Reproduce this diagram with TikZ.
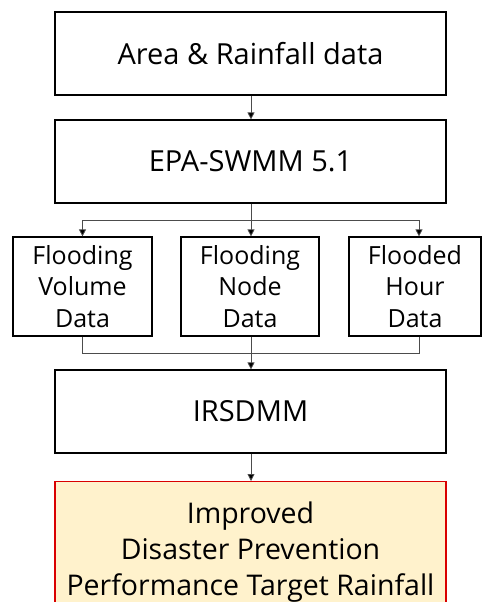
\documentclass[tikz,border=0pt]{standalone}
\usepackage{fontspec}
\setmainfont{Open Sans}
\usetikzlibrary{arrows.meta}
\begin{document}
\begin{tikzpicture}[x=1pt,y=-1pt,
  box/.style={draw=black,line width=1.2pt,minimum height=83pt,minimum width=391pt,inner sep=0pt,align=center},
  small/.style={draw=black,line width=1.2pt,inner sep=0pt,align=center,font=\fontsize{25}{31.5}\selectfont},
  big/.style={font=\fontsize{29}{36}\selectfont},
  conn/.style={draw=black!70,line width=0.8pt},
  arr/.style={conn,-{Triangle[length=7pt,width=7pt,fill=black]}}]
\useasboundingbox (0,0) rectangle (482,602);
\clip (0,0) rectangle (482,602);
\node[box,big] (a) at (250.5,53.5) {Area \& Rainfall data};
\node[box,big,minimum height=83pt] (b) at (250.5,161.5) {EPA-SWMM 5.1};
\node[small,minimum width=139pt,minimum height=99pt] (v) at (82.5,286.5) {Flooding\\Volume\\Data};
\node[small,minimum width=138pt,minimum height=99pt] (n) at (250,286.5) {Flooding\\Node\\Data};
\node[small,minimum width=132pt,minimum height=99pt] (h) at (415,286.5) {Flooded\\Hour\\Data};
\node[box,big] (i) at (250.5,411.5) {IRSDMM};
\node[box,font=\fontsize{28.5}{36}\selectfont,draw=red!85!black,fill={rgb,255:red,255;green,242;blue,204},minimum height=140pt,anchor=north] (t) at (250.5,481) {Improved\\Disaster Prevention\\Performance Target Rainfall};
\coordinate (s) at (251,220);
\coordinate (m) at (251,353);
\draw[arr] (a.south -| s) -- (b.north -| s);
\draw[conn] (b.south -| s) -- (s);
\draw[arr] (s) -- (n.north -| s);
\draw[arr] (s) -| (v.north);
\draw[arr] (s) -| ([xshift=4pt]h.north);
\draw[conn] (v.south) |- (m);
\draw[conn] ([xshift=4pt]h.south) |- (m);
\draw[arr] (n.south -| m) -- (i.north -| m);
\draw[arr] (i.south -| m) -- (t.north -| m);
\end{tikzpicture}
\end{document}
